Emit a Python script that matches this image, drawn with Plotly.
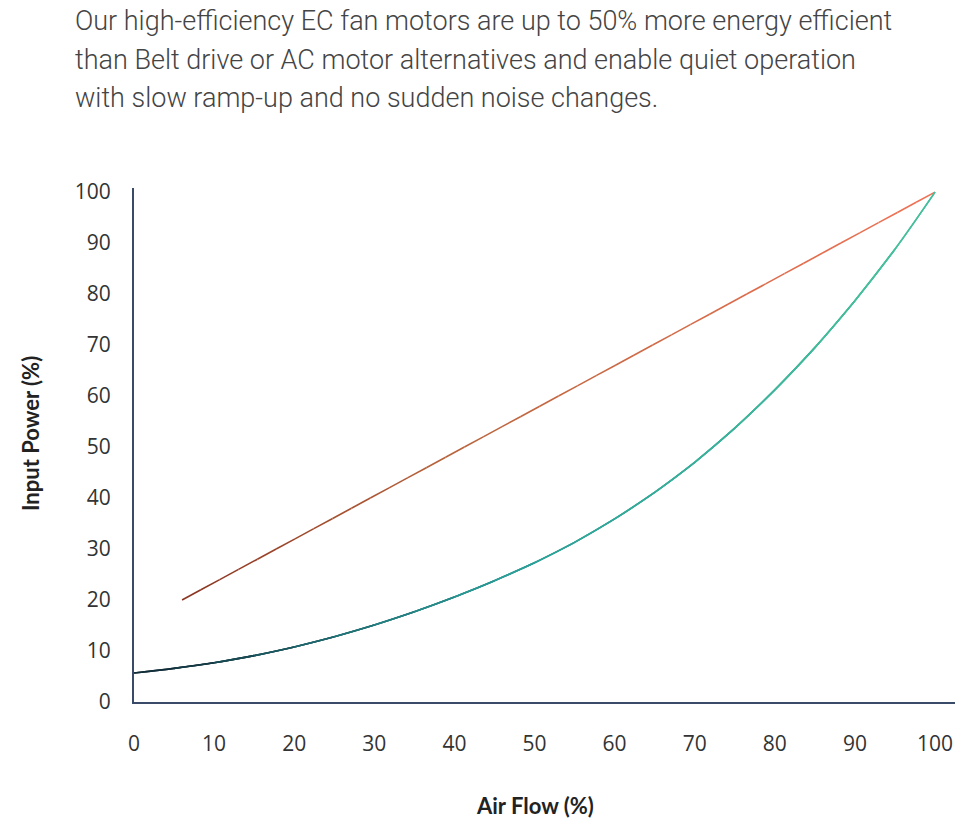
import plotly.graph_objects as go

# ---- data ----
intro_lines = [
    "Our high-efficiency EC fan motors are up to 50% more energy efficient",
    "than Belt drive or AC motor alternatives and enable quiet operation",
    "with slow ramp-up and no sudden noise changes.",
]
x_title = "Air Flow (%)"
y_title = "Input Power (%)"

ac_x = [6, 100]
ac_y = [20, 100]

ec_x = [0, 5, 10, 15, 20, 25, 30, 35, 40, 45, 50, 55, 60, 65, 70, 75, 80, 85, 90, 95, 100]
ec_y = [5.7, 6.6, 7.7, 9.1, 10.8, 12.8, 15.1, 17.7, 20.6, 23.8, 27.3, 31.3, 35.9,
        41.1, 47.0, 53.7, 61.2, 69.5, 78.7, 88.8, 100]

tick_vals = [0, 10, 20, 30, 40, 50, 60, 70, 80, 90, 100]

# ---- geometry (page offset of the html body is 8px) ----
OFF = 8
W, H = 963 - OFF, 820 - OFF
L, R, T, B = 134 - OFF, 6, 188 - OFF, 118
plot_h = H - T - B
plot_w = W - L - R


def hex2rgb(h):
    h = h.lstrip("#")
    return tuple(int(h[i:i + 2], 16) for i in (0, 2, 4))


def blend(stops, t):
    for (p0, c0), (p1, c1) in zip(stops, stops[1:]):
        if p0 <= t <= p1:
            f = 0 if p1 == p0 else (t - p0) / (p1 - p0)
            a, b = hex2rgb(c0), hex2rgb(c1)
            return "rgb(%d,%d,%d)" % tuple(round(a[i] + (b[i] - a[i]) * f) for i in range(3))
    return stops[-1][1]


ac_stops = [(0.0, "#8a3320"), (0.35, "#b8643c"), (1.0, "#f07256")]
ec_stops = [(0.0, "#0b1826"), (0.3, "#1f6f74"), (0.5, "#2a9e98"), (1.0, "#48c19c")]

fig = go.Figure()

# AC line: straight line drawn in short pieces for a colour gradient
n_ac = 40
for i in range(n_ac):
    t0, t1 = i / n_ac, (i + 1) / n_ac
    xs = [ac_x[0] + (ac_x[1] - ac_x[0]) * t for t in (t0, t1)]
    ys = [ac_y[0] + (ac_y[1] - ac_y[0]) * t for t in (t0, t1)]
    fig.add_trace(go.Scatter(x=xs, y=ys, mode="lines",
                             line=dict(color=blend(ac_stops, (t0 + t1) / 2), width=1.6),
                             hoverinfo="skip", showlegend=False))

# EC curve: each piece is a spline through its neighbours so the middle part is smooth
n = len(ec_x)
for i in range(n - 1):
    a = max(0, i - 1)
    b = min(n, i + 3)
    t = (ec_x[i] + ec_x[i + 1]) / 2 / 100
    fig.add_trace(go.Scatter(x=ec_x[a:b], y=ec_y[a:b], mode="lines",
                             line=dict(color=blend(ec_stops, t), width=1.6, shape="spline"),
                             hoverinfo="skip", showlegend=False))

axis_col = "#3a4b6a"
tick_font = dict(family="Open Sans", size=21, color="#333333")

fig.update_xaxes(range=[0, (957 - 134) / 8.01], tickvals=tick_vals, showgrid=False,
                 zeroline=False, showline=True, linecolor=axis_col, linewidth=2, ticks="",
                 ticklabelstandoff=22, tickfont=tick_font, fixedrange=True)
fig.update_yaxes(range=[0, 100.8], tickvals=tick_vals, showgrid=False, zeroline=False,
                 showline=True, linecolor=axis_col, linewidth=2, ticks="",
                 ticklabelstandoff=17, tickfont=tick_font, fixedrange=True)


def py2paper(py):
    return (H - B - (py - OFF)) / plot_h


def px2paper(px):
    return (px - OFF - L) / plot_w


annotations = []
for i, line in enumerate(intro_lines):
    annotations.append(dict(text=line, xref="paper", yref="paper",
                            x=px2paper(73), y=py2paper(21 + 38.5 * i),
                            xanchor="left", yanchor="middle", showarrow=False,
                            font=dict(family="Roboto", size=27, color="#444444", weight=300)))
annotations.append(dict(text="<b>%s</b>" % x_title, xref="paper", yref="paper",
                        x=px2paper(535), y=py2paper(805), xanchor="center", yanchor="middle",
                        showarrow=False, font=dict(family="Lato", size=22, color="#222222")))
annotations.append(dict(text="<b>%s</b>" % y_title, xref="paper", yref="paper",
                        x=px2paper(30), y=py2paper(434), xanchor="center", yanchor="middle",
                        textangle=-90, showarrow=False,
                        font=dict(family="Lato", size=22, color="#222222")))

fig.update_layout(width=W, height=H, margin=dict(l=L, r=R, t=T, b=B),
                  paper_bgcolor="white", plot_bgcolor="white",
                  annotations=annotations, showlegend=False)

fig.write_html("out.html", config={"displayModeBar": False})
